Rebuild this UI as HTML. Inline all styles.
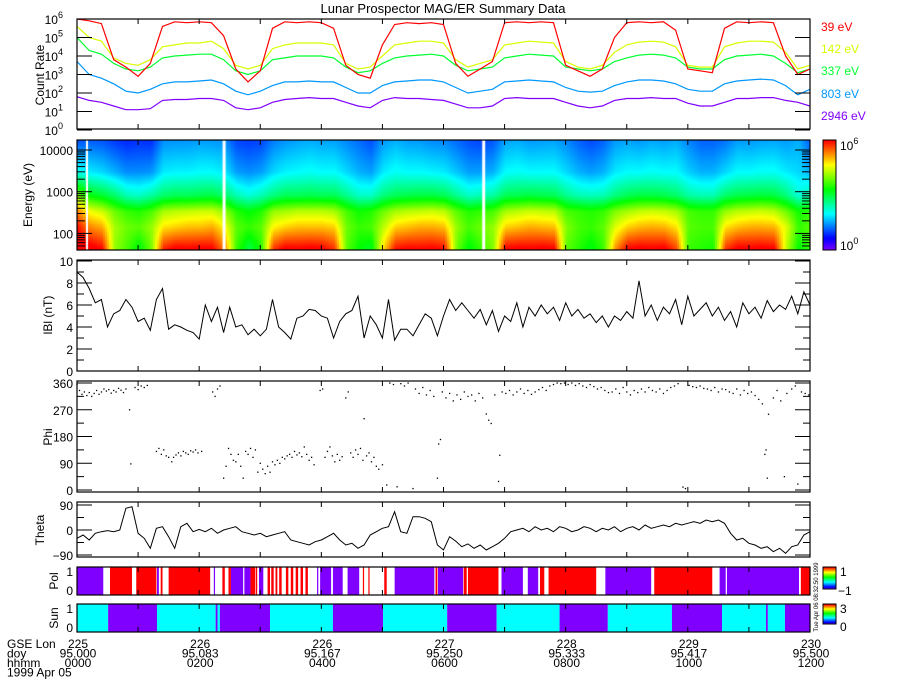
<!DOCTYPE html>
<html><head><meta charset="utf-8"><style>
html,body{margin:0;padding:0;background:#fff;}
#wrap{position:relative;width:900px;height:700px;overflow:hidden;}
svg text{font-family:"Liberation Sans",sans-serif;font-size:12px;fill:#000;}
canvas{position:absolute;}
</style></head><body>
<div id="wrap">
<canvas id="spec" width="733" height="110" style="left:77px;top:140px"></canvas>
<svg id="svg" width="900" height="700" style="position:absolute;left:0;top:0"></svg>
</div>
<script>
// ---- data ----
const energies = [39, 142, 337, 803, 2946];
const energyLabels = ["39 eV","142 eV","337 eV","803 eV","2946 eV"];
const cRed = [6.0,5.9,5.75,3.8,3.4,2.9,3.6,5.6,5.85,5.8,5.85,5.8,5.1,3.3,2.6,3.2,5.5,5.85,5.8,5.85,5.8,5.5,3.5,3.0,2.8,4.6,5.7,5.8,5.75,5.8,5.7,3.6,2.9,3.3,3.7,5.8,5.85,5.8,5.85,5.8,3.5,3.2,2.9,3.3,5.0,5.8,5.85,5.8,5.85,5.4,3.3,3.2,3.1,5.5,5.85,5.8,5.85,5.8,4.0,3.0,3.3];
const cYellow = [5.6,5.0,4.8,3.9,3.6,3.5,3.8,4.5,4.6,4.7,4.7,4.8,4.4,3.5,3.3,3.5,4.4,4.6,4.7,4.7,4.7,4.6,3.6,3.3,3.4,4.0,4.6,4.7,4.8,4.8,4.7,3.8,3.4,3.6,3.8,4.6,4.7,4.8,4.75,4.7,3.7,3.4,3.3,3.5,4.2,4.6,4.75,4.8,4.75,4.5,3.5,3.4,3.4,4.5,4.7,4.8,4.8,4.75,4.2,3.3,3.5];
const cGreen = [5.0,4.3,4.1,3.6,3.3,3.2,3.4,3.9,4.0,4.05,4.1,4.1,3.8,3.2,3.0,3.2,3.8,3.9,4.0,4.0,4.0,3.9,3.4,3.1,3.2,3.6,3.9,4.0,4.05,4.1,4.0,3.5,3.2,3.3,3.4,3.9,4.0,4.1,4.05,4.0,3.4,3.3,3.2,3.3,3.7,3.9,4.05,4.1,4.05,3.9,3.4,3.3,3.3,3.8,4.0,4.05,4.1,4.0,3.6,3.1,3.3];
const cBlue = [3.7,3.0,2.8,2.5,2.1,2.0,2.2,2.5,2.6,2.6,2.65,2.7,2.5,2.1,1.9,2.1,2.4,2.6,2.6,2.65,2.6,2.6,2.3,2.0,2.0,2.4,2.6,2.65,2.7,2.7,2.6,2.3,2.0,2.1,2.2,2.6,2.65,2.7,2.65,2.6,2.3,2.1,2.05,2.1,2.4,2.6,2.7,2.7,2.65,2.5,2.2,2.1,2.1,2.5,2.65,2.7,2.75,2.7,2.4,1.9,2.2];
const cPurple = [1.8,1.6,1.5,1.3,1.1,1.1,1.15,1.6,1.65,1.65,1.7,1.7,1.6,1.2,1.1,1.2,1.5,1.65,1.7,1.75,1.7,1.7,1.5,1.3,1.2,1.6,1.75,1.7,1.7,1.65,1.6,1.4,1.2,1.2,1.3,1.7,1.75,1.7,1.7,1.7,1.5,1.3,1.2,1.3,1.6,1.7,1.7,1.75,1.7,1.7,1.45,1.3,1.3,1.5,1.7,1.7,1.75,1.75,1.6,1.5,1.3];
const specGaps = [2.4, 6.65];
const bMag = [9,8.5,7.5,6.2,6.5,4.0,5.2,5.5,6.5,5.8,4.5,4.8,3.7,6.5,7.5,3.8,4.2,4.0,3.7,3.5,2.9,6.0,4.5,5.8,3.5,5.8,4.0,4.2,3.3,3.8,3.2,3.8,6.5,4.0,3.5,2.9,4.8,5.0,5.6,5.5,5.0,4.8,3.0,4.5,5.2,5.5,6.8,3.0,5.0,4.2,3.0,6.5,2.8,3.8,3.8,3.2,4.2,5.2,4.8,3.2,5.0,6.5,5.5,6.2,5.5,
4.8,5.6,4.2,5.5,3.6,5.0,4.5,6.2,4.0,5.8,5.0,6.0,5.2,5.8,4.6,6.2,5.0,5.6,4.8,5.2,4.4,5.0,4.0,5.0,4.6,5.4,4.8,8.2,5.0,6.0,4.6,5.8,5.2,6.5,4.2,6.8,5.0,5.6,6.2,5.0,5.8,4.6,5.4,4.0,6.2,5.2,5.8,4.8,6.4,5.4,6.0,5.6,6.8,5.2,7.2,6.0];
const theta = [-30,-18,-36,-12,-6,-2,-6,0,78,84,-12,-30,-66,6,12,-24,-66,12,24,-6,2,-6,6,-12,0,6,12,-6,-12,-18,-12,-24,-18,-12,-6,-36,-42,-48,-54,-42,-36,-24,-12,-36,-54,-48,-66,-54,-18,-6,6,12,66,-6,-12,48,48,42,30,-54,-72,-24,
-40,-60,-50,-66,-54,-72,-60,-48,-30,-6,0,6,-6,12,0,6,-6,12,6,-6,0,12,6,-6,6,0,12,-6,6,12,0,18,6,12,18,12,24,18,24,30,24,36,30,36,24,-12,-36,-30,-48,-54,-66,-60,-78,-66,-84,-60,-54,-18,-6];
const phiT = [0.00,0.04,0.08,0.12,0.16,0.20,0.24,0.28,0.32,0.36,0.40,0.44,0.48,0.52,0.56,0.60,0.64,0.68,0.72,0.76,0.80,0.86,0.88,0.95,1.00,1.05,1.10,1.15,1.30,1.34,1.38,1.42,1.46,1.50,1.55,1.58,1.62,1.66,1.70,1.74,1.78,1.82,1.86,1.90,1.94,1.98,2.04,2.22,2.26,2.30,2.34,2.40,2.44,2.48,2.52,2.56,2.60,2.64,2.68,2.72,2.76,2.80,2.84,2.88,2.92,2.96,3.00,3.04,3.08,3.12,3.16,3.20,3.24,3.28,3.32,3.36,3.40,3.44,3.48,3.52,3.56,3.60,3.64,3.68,3.72,3.76,3.80,3.84,3.88,3.98,4.02,4.06,4.10,4.14,4.18,4.22,4.26,4.30,4.34,
4.40,4.44,4.48,4.52,4.56,4.60,4.64,4.68,4.70,4.74,4.78,4.82,4.86,4.90,4.94,5.00,5.07,5.12,5.18,5.24,5.30,5.36,5.42,5.50,5.54,5.60,5.66,5.72,5.78,5.84,5.90,5.92,5.95,5.98,6.04,6.10,6.16,6.22,6.28,6.34,6.40,6.46,6.52,6.58,6.64,6.70,6.74,6.78,6.84,6.90,6.92,6.96,7.02,7.08,7.14,7.20,7.26,7.32,7.38,7.44,7.50,7.56,7.62,7.68,7.74,7.80,7.86,7.92,7.98,8.04,8.10,8.16,8.22,8.28,8.34,8.40,8.46,8.52,8.58,8.64,8.70,8.76,8.82,8.88,8.94,9.00,9.06,9.12,9.18,9.24,9.30,9.36,9.42,9.48,9.54,9.60,9.66,9.72,9.78,9.84,9.92,9.96,10.02,10.08,10.14,10.20,10.26,10.32,10.38,10.44,10.50,10.56,10.62,10.68,10.74,10.80,10.86,10.92,10.98,11.04,11.10,11.16,11.22,11.26,11.28,11.30,11.32,11.40,11.46,11.52,11.58,11.62,11.70,11.76,11.80,11.86,11.92,11.98];
const phiV = [355,335,322,330,318,328,315,325,335,322,330,340,333,338,326,335,330,342,336,328,340,270,88,345,338,350,345,352,130,140,120,135,115,110,95,110,118,125,115,130,125,120,132,128,135,125,130,330,315,340,350,40,80,140,120,100,95,120,80,40,130,120,140,110,135,60,90,70,55,80,60,95,85,100,90,110,105,115,120,110,130,118,125,112,145,120,100,110,85,335,340,110,130,145,115,95,120,100,112,
310,330,125,110,135,120,140,100,240,115,125,95,110,80,70,85,17,360,355,11,358,350,360,5,340,325,345,320,335,315,40,155,170,330,310,325,300,320,305,330,315,320,300,325,310,256,235,224,320,29,117,330,325,335,320,330,340,325,335,322,330,338,345,335,350,355,360,358,360,355,360,352,358,350,345,355,348,340,345,335,328,330,340,325,345,330,320,335,328,340,330,345,335,330,340,325,335,345,350,358,10,5,352,348,345,350,342,340,335,345,330,340,338,330,325,340,320,335,325,330,318,305,290,120,135,40,255,310,335,300,45,325,340,350,20,330,325,320];
const polStart = [0,0.54,0.97,1.31,1.37,1.50,2.24,2.38,2.48,2.52,2.74,2.84,2.93,2.98,3.12,3.18,3.25,3.31,3.42,3.50,3.58,3.66,3.74,3.93,3.98,4.19,4.43,4.68,4.77,5.03,5.20,5.87,5.91,6.33,6.40,6.95,7.38,7.58,7.72,8.65,9.45,10.52,10.64,11.85];
const polEnd   = [0.43,0.90,1.30,1.34,1.40,2.18,2.26,2.42,2.52,2.72,2.84,2.92,2.95,3.05,3.16,3.22,3.28,3.35,3.46,3.54,3.62,3.70,3.78,3.95,4.16,4.35,4.62,4.70,4.79,5.07,5.85,5.90,6.32,6.38,6.90,7.30,7.55,7.65,8.50,9.40,10.40,10.62,11.82,12.0];
const polVal   = [-1,1,1,-1,1,1,-1,1,1,-1,-1,1,1,-1,1,1,1,1,1,1,1,1,1,-1,-1,-1,-1,1,1,1,-1,1,-1,1,1,-1,-1,1,1,-1,1,-1,-1,1];
const sunStart = [0,0.51,1.31,2.27,2.30,2.34,3.16,4.19,5.01,6.06,6.87,7.90,8.69,9.74,10.56,11.28,11.31,11.59];
const sunEnd   = [0.51,1.31,2.27,2.30,2.34,3.16,4.19,5.01,6.06,6.87,7.90,8.69,9.74,10.56,11.28,11.31,11.59,12.0];
const sunVal   = [1,0,1,0,1,0,1,0,1,0,1,0,1,0,1,0,1,0];
const xTickHours = [0,2,4,6,8,10,12];
const gseLon = ["225","226","226","227","228","229","230"];
const doyLabels = ["95.000","95.083","95.167","95.250","95.333","95.417","95.500"];
const hhmmLabels = ["0000","0200","0400","0600","0800","1000","1200"];

// ---- layout ----
const X0=77, X1=810;
const xT = t => X0 + t*(X1-X0)/12;
const NS="http://www.w3.org/2000/svg";
const svg=document.getElementById('svg');
function el(tag, attrs, parent){const e=document.createElementNS(NS,tag);for(const k in attrs)e.setAttribute(k,attrs[k]);(parent||svg).appendChild(e);return e;}
function txt(x,y,s,anchor,fill,size,parent){const e=el('text',{x:x,y:y,'text-anchor':anchor||'start'},parent);if(fill)e.style.fill=fill;if(size)e.style.fontSize=size;e.textContent=s;return e;}
function rainbow(v){const h=270*(1-Math.max(0,Math.min(6,v))/6);return 'hsl('+h+',100%,50%)';}

const title=txt(443,13,"Lunar Prospector MAG/ER Summary Data","middle",null,"13px");



const panels={count:[19,129],spec:[140,250],b:[260,371],phi:[381,492],theta:[502,557],pol:[567,595],sun:[604,632]};

function frame(name,top,bot){
  const g=el('g',{});
  
  
  for(let h=0;h<=12;h++){const x=xT(h);const L=5;
    el('line',{x1:x,y1:bot,x2:x,y2:bot-L,stroke:'#000'},g);
    el('line',{x1:x,y1:top,x2:x,y2:top+L,stroke:'#000'},g);}
  return g;
}
function border(top,bot){el('rect',{x:X0,y:top,width:X1-X0,height:bot-top,fill:'none',stroke:'#000','stroke-width':1.2});}
function yTick(g,y,len){el('line',{x1:X0,y1:y,x2:X0+len,y2:y,stroke:'#000'},g);el('line',{x1:X1,y1:y,x2:X1-len,y2:y,stroke:'#000'},g);}
function ylab(x,cy,s,name){const e=txt(0,0,s,"middle");e.setAttribute('transform','translate('+x+','+cy+') rotate(-90)');}

// ---- count rate ----
(function(){
  const [top,bot]=panels.count;
  const yV=v=>bot+1-v*(bot+1-top)/6;
  const cp=el('clipPath',{id:'cpc'});el('rect',{x:X0,y:top,width:X1-X0,height:bot-top},cp);
  const series=[cRed,cYellow,cGreen,cBlue,cPurple];
  const cols=['#ff0000','#d8ff00','#00ff30','#0098ff','#8000ff'];
  for(let s=series.length-1;s>=0;s--){
    const arr=series[s];const pts=arr.map((v,i)=>xT(i*12/(arr.length-1)).toFixed(1)+','+yV(v).toFixed(1)).join(' ');
    const p=el('polyline',{points:pts,fill:'none',stroke:cols[s],'stroke-width':1.2,'clip-path':'url(#cpc)'});
    
    
  }
  const g=frame('count-rate',top,bot);
  for(let d=0;d<=6;d++){yTick(g,yV(d),15);
    const t=txt(63,yV(d)+5,"10","end");const s=el('tspan',{dy:-6,'font-size':'9px'},t);s.textContent=String(d);
  }
  border(top,bot);
  ylab(44,75,"Count Rate","count-rate-label");
  energyLabels.forEach((l,i)=>{const e=txt(821,[31,53,75,98,120][i],l,"start",cols[i]);
    
    });
})();

// ---- spectrogram ----
(function(){
  const [top,bot]=panels.spec;
  const c=document.getElementById('spec').getContext('2d');
  const le=energies.map(e=>Math.log10(e));
  const series=[cRed,cYellow,cGreen,cBlue,cPurple];
  const n=cRed.length;
  for(let px=0;px<733;px+=2){
    const t=px/733*12;const fi=t/12*(n-1);const i0=Math.min(n-2,Math.floor(fi));const f=fi-i0;
    const vals=series.map(a=>a[i0]*(1-f)+a[i0+1]*f);
    for(let py=0;py<110;py+=2){
      const lE=4.24-(py+1)/41.7;let v;
      if(lE<=le[0])v=vals[0];
      else if(lE>=le[4]){const sl=(vals[4]-vals[3])/(le[4]-le[3]);v=vals[4]+sl*0.4*(lE-le[4]);}
      else{let k=0;while(lE>le[k+1])k++;const ff=(lE-le[k])/(le[k+1]-le[k]);v=vals[k]*(1-ff)+vals[k+1]*ff;}
      c.fillStyle=rainbow(v+0.3);c.fillRect(px,py,2,2);
    }
  }
  c.fillStyle='#fff';
  specGaps.forEach(g=>{c.fillRect(xT(g)-X0-1,0,3,110);});
  c.fillRect(9,0,2,110);
  const g=frame('energy',top,bot);
  const yE=e=>top+(4.24-Math.log10(e))*41.7;
  [100,1000,10000].forEach(e=>{yTick(g,yE(e),15);txt(73,yE(e)+5,String(e),"end");});
  [50,60,70,80,90,200,300,400,500,600,700,800,900,2000,3000,4000,5000,6000,7000,8000,9000].forEach(e=>{if(yE(e)>top&&yE(e)<bot)yTick(g,yE(e),8);});
  border(top,bot);
  ylab(32,195,"Energy (eV)","energy-label");
  const cb=el('g',{});
  
  
  for(let i=0;i<110;i++)el('rect',{x:823,y:top+i,width:13,height:1.2,fill:rainbow(6*(1-i/110))},cb);
  el('rect',{x:823,y:top,width:13,height:110,fill:'none',stroke:'#000'},cb);
  const a=txt(840,top+10,"10");const s=el('tspan',{dy:-6,'font-size':'9px'},a);s.textContent="6";
  const b=txt(840,bot,"10");const s2=el('tspan',{dy:-6,'font-size':'9px'},b);s2.textContent="0";
})();

// ---- |B| ----
(function(){
  const [top,bot]=panels.b;
  const yV=v=>bot-v*(bot-top-1)/10;
  const pts=bMag.map((v,i)=>xT(i*12/(bMag.length-1)).toFixed(1)+','+yV(v).toFixed(1)).join(' ');
  const p=el('polyline',{points:pts,fill:'none',stroke:'#000','stroke-width':1});
  
  
  const g=frame('b-magnitude',top,bot);
  for(let v=0;v<=10;v++){yTick(g,yV(v),v%2==0?15:7);if(v%2==0)txt(73,yV(v)+5,String(v),"end");}
  border(top,bot);
  ylab(52,315,"lBl (nT)","b-magnitude-label");
})();

// ---- phi ----
(function(){
  const [top,bot]=panels.phi;
  const yV=v=>bot-2-v*(bot-top-4)/360;
  const g0=el('g',{});
  
  
  phiT.forEach((t,i)=>el('rect',{x:xT(t)-0.6,y:yV(phiV[i])-0.6,width:1.3,height:1.3,fill:'#000'},g0));
  const g=frame('phi',top,bot);
  for(let v=0;v<=360;v+=45){yTick(g,yV(v),v%90==0?15:7);if(v%90==0)txt(73,yV(v)+5,String(v),"end");}
  border(top,bot);
  ylab(52,437,"Phi","phi-label");
})();

// ---- theta ----
(function(){
  const [top,bot]=panels.theta;
  const yV=v=>530-v*25/90;
  const cp=el('clipPath',{id:'cpt'});el('rect',{x:X0,y:top,width:X1-X0,height:bot-top},cp);
  const pts=theta.map((v,i)=>xT(i*12/(theta.length-1)).toFixed(1)+','+yV(v).toFixed(1)).join(' ');
  const p=el('polyline',{points:pts,fill:'none',stroke:'#000','stroke-width':1,'clip-path':'url(#cpt)'});
  
  
  const g=frame('theta',top,bot);
  for(let v=-90;v<=90;v+=45){yTick(g,yV(v),v%90==0?15:7);if(v%90==0)txt(73,yV(v)+5,v<0?"\u221290":String(v),"end");}
  border(top,bot);
  ylab(44,530,"Theta","theta-label");
})();

// ---- pol ----
(function(){
  const [top,bot]=panels.pol;
  const g0=el('g',{});
  
  
  polStart.forEach((s,i)=>el('rect',{x:xT(s),y:top,width:Math.max(1,xT(polEnd[i])-xT(s)),height:bot-top,fill:polVal[i]>0?'#ff0000':'#7f00ff'},g0));
  frame('pol',top,bot);
  border(top,bot);
  txt(73,top+9,"1","end");txt(73,bot,"0","end");
  ylab(58,581,"Pol","pol-label");
  const cb=el('g',{});
  
  
  for(let i=0;i<22;i++)el('rect',{x:823,y:top+i,width:13,height:1.2,fill:rainbow(6*(1-i/22))},cb);
  el('rect',{x:823,y:top,width:13,height:22,fill:'none',stroke:'#000'},cb);
  txt(840,top+9,"1");txt(838,top+28,"\u22121");
  const st=txt(0,0,"Tue Apr 06 08:32:50 1999","middle",null,"6px");
  st.setAttribute('transform','translate(818,597) rotate(-90)');
  
  
})();

// ---- sun ----
(function(){
  const [top,bot]=panels.sun;
  const g0=el('g',{});
  
  
  sunStart.forEach((s,i)=>el('rect',{x:xT(s),y:top,width:Math.max(1,xT(sunEnd[i])-xT(s)),height:bot-top,fill:sunVal[i]>0?'#00ffff':'#7f00ff'},g0));
  frame('sun',top,bot);
  border(top,bot);
  txt(73,top+9,"1","end");txt(73,bot,"0","end");
  ylab(58,618,"Sun","sun-label");
  const cb=el('g',{});
  
  
  for(let i=0;i<20;i++)el('rect',{x:823,y:top+i,width:13,height:1.2,fill:rainbow(6*(1-i/20))},cb);
  el('rect',{x:823,y:top,width:13,height:20,fill:'none',stroke:'#000'},cb);
  txt(840,top+9,"3");txt(840,top+27,"0");
})();

// ---- bottom x labels ----
(function(){
  const g=el('g',{});
  
  
  ["GSE Lon","doy","hhmm","1999 Apr 05"].forEach((s,i)=>txt(7,648+i*9.5,s,"start",null,null,g));
  xTickHours.forEach((h,i)=>{const x=xT(h)+1;
    txt(x,648,gseLon[i],"middle",null,null,g);
    txt(x,657.5,doyLabels[i],"middle",null,null,g);
    txt(x,667,hhmmLabels[i],"middle",null,null,g);});
})();
</script>
</body></html>
